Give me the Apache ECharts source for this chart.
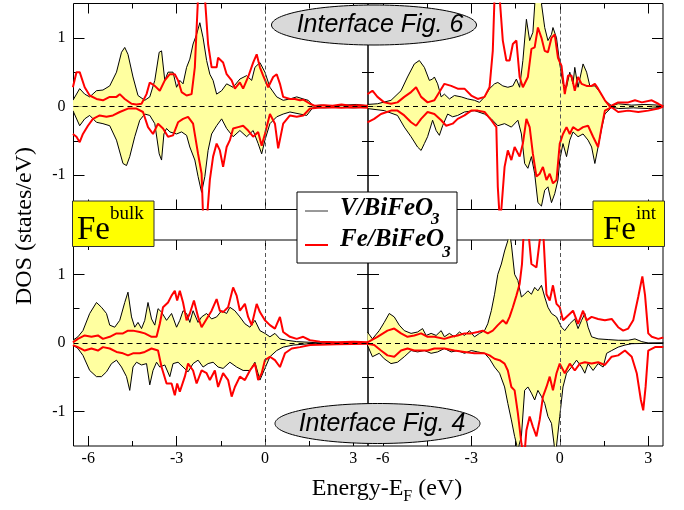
<!DOCTYPE html>
<html>
<head>
<meta charset="utf-8">
<script src="https://cdn.jsdelivr.net/npm/echarts@6.0.0/dist/echarts.min.js"></script>
<style>
    html, body {margin: 0; padding: 0; background: #fff;}
    #main {width: 684px; height: 510px;}
</style>
</head>
<body>
<div id="main"></div>
<script>
/* 坐标轴刻度 */
var xMajor = [-6, -3, 0, 3];
var xMinor = [-4.5, -1.5, 1.5];
var yMajor = [-1, 0, 1];
var yMinor = [-0.5, 0.5];
var xMin = -6.5, xMax = 3.5, yMin = -1.5, yMax = 1.5;

var seriesNames = ['V/BiFeO3', 'Fe/BiFeO3'];

/* 上左: Fe bulk, Interface Fig. 6 */
var tlV_up = [[-6.52,0.09],[-6.29,0.26],[-6.12,0.18],[-5.95,0.14],[-5.72,0.23],[-5.5,0.24],[-5.27,0.3],[-5.04,0.5],[-4.87,0.79],[-4.76,0.86],[-4.65,0.76],[-4.48,0.43],[-4.31,0.16],[-4.08,0.09],[-3.91,0.14],[-3.74,0.38],[-3.59,0.79],[-3.51,0.81],[-3.4,0.38],[-3.29,0.5],[-3.12,0.5],[-3,0.28],[-2.89,0.38],[-2.78,0.33],[-2.66,0.57],[-2.55,0.69],[-2.44,0.91],[-2.32,1.05],[-2.21,1.22],[-2.1,1.0],[-1.98,0.67],[-1.87,0.47],[-1.76,0.38],[-1.64,0.18],[-1.47,0.23],[-1.3,0.33],[-1.08,0.28],[-0.85,0.4],[-0.62,0.45],[-0.45,0.38],[-0.34,0.57],[-0.17,0.64],[0,0.5],[0.17,0.28],[0.4,0.14],[0.62,0.09],[0.85,0.11],[1.08,0.14],[1.3,0.11],[1.47,0.09],[1.64,0.01],[1.9,0.02],[2.3,0.01],[2.7,0.02],[3.1,0.03],[3.5,0.01]];
var tlV_dn = [[-6.52,-0.06],[-6.29,-0.28],[-6.12,-0.18],[-5.95,-0.13],[-5.72,-0.23],[-5.5,-0.25],[-5.27,-0.28],[-5.04,-0.49],[-4.82,-0.83],[-4.7,-0.86],[-4.59,-0.73],[-4.42,-0.44],[-4.25,-0.2],[-4.08,-0.11],[-3.91,-0.13],[-3.74,-0.25],[-3.59,-0.69],[-3.51,-0.78],[-3.43,-0.4],[-3.34,-0.32],[-3.23,-0.37],[-3,-0.4],[-2.83,-0.37],[-2.66,-0.42],[-2.55,-0.59],[-2.38,-0.78],[-2.27,-1.02],[-2.15,-1.25],[-2.04,-1.02],[-1.93,-0.64],[-1.81,-0.4],[-1.64,-0.28],[-1.47,-0.18],[-1.3,-0.32],[-1.08,-0.44],[-0.85,-0.35],[-0.62,-0.44],[-0.4,-0.35],[-0.23,-0.54],[-0.11,-0.69],[0,-0.49],[0.17,-0.25],[0.4,-0.15],[0.62,-0.11],[0.85,-0.08],[1.19,-0.11],[1.42,-0.13],[1.64,-0.01],[2,-0.02],[2.5,-0.01],[3,-0.02],[3.5,-0.01]];
var tlFe_up = [[-6.52,0.28],[-6.4,0.5],[-6.29,0.5],[-6.12,0.28],[-5.95,0.16],[-5.72,0.11],[-5.5,0.09],[-5.27,0.14],[-5.04,0.14],[-4.93,0.18],[-4.76,0.11],[-4.53,0.04],[-4.36,0.03],[-4.19,0.04],[-4.02,0.18],[-3.91,0.35],[-3.74,0.3],[-3.57,0.23],[-3.4,0.38],[-3.23,0.47],[-3.06,0.47],[-2.95,0.38],[-2.83,0.21],[-2.66,0.16],[-2.49,0.18],[-2.38,0.57],[-2.27,1.6],[-2.15,1.8],[-2.04,1.6],[-1.93,0.91],[-1.81,0.57],[-1.64,0.57],[-1.59,0.71],[-1.42,0.64],[-1.3,0.47],[-1.13,0.38],[-1.02,0.26],[-0.85,0.35],[-0.74,0.26],[-0.57,0.43],[-0.4,0.64],[-0.28,0.76],[-0.17,0.57],[-0.06,0.45],[0.11,0.28],[0.28,0.43],[0.4,0.47],[0.51,0.33],[0.62,0.14],[0.85,0.11],[1.02,0.11],[1.19,0.09],[1.3,0.1],[1.53,0.04],[1.7,0.01],[2,0.02],[2.3,0.01],[2.6,0.03],[2.9,0.01],[3.2,0.02],[3.5,0.01]];
var tlFe_dn = [[-6.52,-0.4],[-6.4,-0.44],[-6.29,-0.52],[-6.18,-0.4],[-6.01,-0.28],[-5.84,-0.18],[-5.61,-0.13],[-5.38,-0.15],[-5.16,-0.13],[-4.93,-0.08],[-4.65,-0.03],[-4.36,-0.03],[-4.14,-0.08],[-3.97,-0.3],[-3.8,-0.4],[-3.63,-0.25],[-3.46,-0.32],[-3.29,-0.44],[-3.12,-0.42],[-2.95,-0.23],[-2.78,-0.18],[-2.61,-0.15],[-2.44,-0.25],[-2.27,-0.69],[-2.15,-0.98],[-2.1,-1.6],[-1.98,-1.7],[-1.87,-1.07],[-1.76,-0.73],[-1.64,-0.54],[-1.53,-0.64],[-1.42,-0.88],[-1.3,-0.59],[-1.19,-0.49],[-1.08,-0.32],[-0.91,-0.3],[-0.74,-0.28],[-0.57,-0.35],[-0.4,-0.44],[-0.23,-0.37],[-0.11,-0.57],[0,-0.4],[0.17,-0.11],[0.34,-0.25],[0.45,-0.61],[0.62,-0.25],[0.85,-0.13],[1.08,-0.15],[1.3,-0.13],[1.53,-0.03],[1.8,-0.02],[2.2,-0.01],[2.6,-0.02],[3,-0.01],[3.5,-0.02]];

/* 上右: Fe int, Interface Fig. 6 */
var trV_up = [[-6.52,0.03],[-6.18,0.04],[-5.72,0.09],[-5.38,0.23],[-5.16,0.43],[-4.93,0.62],[-4.76,0.67],[-4.59,0.57],[-4.42,0.38],[-4.31,0.4],[-4.25,0.43],[-4.14,0.33],[-4.02,0.14],[-3.91,0.18],[-3.74,0.11],[-3.57,0.16],[-3.34,0.14],[-3.12,0.11],[-2.89,0.09],[-2.72,0.06],[-2.55,0.14],[-2.38,0.26],[-2.21,0.33],[-2.1,0.35],[-1.93,0.3],[-1.76,0.28],[-1.59,0.3],[-1.47,0.4],[-1.36,0.28],[-1.25,0.67],[-1.13,1.27],[-1.02,0.96],[-0.91,1.08],[-0.83,1.6],[-0.74,1.65],[-0.62,1.5],[-0.51,1.15],[-0.4,0.96],[-0.28,1.05],[-0.23,1.15],[-0.11,1.0],[0,0.62],[0.11,0.33],[0.23,0.28],[0.34,0.5],[0.45,0.33],[0.51,0.57],[0.62,0.28],[0.79,0.62],[0.91,0.5],[1.02,0.3],[1.19,0.3],[1.36,0.21],[1.53,0.09],[1.76,0.01],[1.98,0.04],[2.44,0.02],[2.89,0.03],[3.34,0.02],[3.51,0.01]];
var trV_dn = [[-6.52,-0.03],[-5.95,-0.06],[-5.5,-0.13],[-5.27,-0.3],[-5.04,-0.44],[-4.82,-0.59],[-4.7,-0.64],[-4.59,-0.54],[-4.48,-0.44],[-4.31,-0.2],[-4.19,-0.35],[-4.08,-0.42],[-3.97,-0.28],[-3.8,-0.11],[-3.63,-0.15],[-3.46,-0.13],[-3.23,-0.08],[-2.89,-0.06],[-2.55,-0.11],[-2.32,-0.18],[-2.1,-0.28],[-1.87,-0.25],[-1.64,-0.3],[-1.42,-0.2],[-1.3,-0.4],[-1.19,-0.83],[-1.08,-0.9],[-0.96,-0.73],[-0.85,-0.98],[-0.74,-1.4],[-0.62,-1.45],[-0.51,-1.22],[-0.4,-1.17],[-0.28,-1.4],[-0.17,-1.27],[-0.06,-1.07],[0,-0.78],[0.11,-0.54],[0.23,-0.73],[0.34,-0.49],[0.45,-0.37],[0.62,-0.44],[0.79,-0.4],[0.96,-0.49],[1.08,-0.59],[1.19,-0.83],[1.3,-0.59],[1.42,-0.32],[1.53,-0.11],[1.76,-0.01],[2,-0.03],[2.5,-0.02],[3,-0.03],[3.5,-0.01]];
var trFe_up = [[-6.52,0.18],[-6.35,0.23],[-6.18,0.14],[-5.95,0.06],[-5.72,0.04],[-5.5,0.06],[-5.27,0.14],[-5.04,0.21],[-4.87,0.28],[-4.7,0.14],[-4.48,0.06],[-4.25,0.09],[-4.08,0.21],[-3.91,0.33],[-3.68,0.3],[-3.46,0.26],[-3.23,0.26],[-3,0.16],[-2.78,0.11],[-2.55,0.14],[-2.38,0.28],[-2.27,0.81],[-2.21,1.6],[-2.13,1.8],[-2.04,1.6],[-1.93,0.96],[-1.81,0.67],[-1.7,0.67],[-1.59,0.91],[-1.47,0.96],[-1.36,0.43],[-1.25,0.28],[-1.08,0.43],[-0.96,0.84],[-0.85,0.86],[-0.74,1.15],[-0.62,1.0],[-0.51,0.81],[-0.4,0.79],[-0.28,1.0],[-0.17,1.05],[-0.06,0.71],[0.06,0.59],[0.17,0.18],[0.28,0.45],[0.4,0.45],[0.51,0.23],[0.62,0.43],[0.74,0.33],[0.91,0.3],[1.08,0.3],[1.19,0.33],[1.3,0.26],[1.53,0.09],[1.7,0.0],[1.98,0.06],[2.32,0.06],[2.55,0.09],[2.78,0.06],[3.12,0.09],[3.34,0.04],[3.51,0.0]];
var trFe_dn = [[-6.52,-0.23],[-6.29,-0.18],[-6.06,-0.11],[-5.72,-0.06],[-5.5,-0.06],[-5.27,-0.13],[-5.04,-0.23],[-4.87,-0.28],[-4.7,-0.18],[-4.48,-0.08],[-4.25,-0.11],[-4.02,-0.2],[-3.85,-0.28],[-3.63,-0.25],[-3.46,-0.18],[-3.23,-0.13],[-3,-0.06],[-2.78,-0.06],[-2.55,-0.08],[-2.32,-0.2],[-2.15,-0.3],[-2.1,-1.17],[-2.04,-1.6],[-1.98,-1.5],[-1.87,-0.88],[-1.76,-0.64],[-1.64,-0.78],[-1.53,-0.59],[-1.36,-0.73],[-1.25,-0.54],[-1.13,-0.18],[-1.02,-0.3],[-0.91,-0.69],[-0.79,-1.02],[-0.68,-0.98],[-0.57,-0.88],[-0.45,-1.07],[-0.34,-0.98],[-0.23,-1.12],[-0.11,-1.07],[0,-0.54],[0.11,-0.4],[0.23,-0.3],[0.34,-0.4],[0.45,-0.3],[0.62,-0.35],[0.79,-0.3],[0.96,-0.28],[1.13,-0.44],[1.3,-0.59],[1.42,-0.3],[1.53,-0.06],[1.76,-0.01],[1.98,-0.08],[2.32,-0.06],[2.66,-0.08],[3,-0.06],[3.34,-0.03],[3.51,0.0]];

/* 下左: Fe bulk, Interface Fig. 4 */
var blV_up = [[-6.52,0.04],[-6.35,0.09],[-6.18,0.18],[-5.95,0.43],[-5.72,0.59],[-5.55,0.52],[-5.38,0.43],[-5.27,0.26],[-5.1,0.23],[-4.93,0.33],[-4.76,0.59],[-4.65,0.74],[-4.53,0.38],[-4.42,0.23],[-4.31,0.3],[-4.19,0.21],[-4.08,0.33],[-3.97,0.59],[-3.85,0.35],[-3.74,0.26],[-3.63,0.5],[-3.51,0.45],[-3.34,0.33],[-3.17,0.43],[-3,0.23],[-2.89,0.33],[-2.78,0.47],[-2.66,0.43],[-2.55,0.3],[-2.44,0.47],[-2.27,0.3],[-2.15,0.38],[-1.98,0.43],[-1.81,0.35],[-1.64,0.38],[-1.47,0.47],[-1.3,0.43],[-1.19,0.52],[-1.02,0.47],[-0.85,0.38],[-0.68,0.28],[-0.51,0.23],[-0.34,0.33],[-0.17,0.18],[0,0.14],[0.17,0.09],[0.34,0.14],[0.51,0.06],[0.74,0.04],[1.08,0.02],[1.53,0.01],[1.87,0.0],[3.5,0.0]];
var blV_dn = [[-6.52,-0.03],[-6.35,-0.08],[-6.18,-0.18],[-5.95,-0.4],[-5.72,-0.49],[-5.55,-0.49],[-5.38,-0.42],[-5.21,-0.3],[-5.04,-0.25],[-4.87,-0.35],[-4.7,-0.49],[-4.59,-0.69],[-4.48,-0.35],[-4.36,-0.28],[-4.19,-0.32],[-4.02,-0.3],[-3.91,-0.61],[-3.8,-0.4],[-3.68,-0.28],[-3.57,-0.35],[-3.4,-0.32],[-3.23,-0.49],[-3.12,-0.3],[-2.95,-0.28],[-2.78,-0.35],[-2.61,-0.42],[-2.44,-0.3],[-2.27,-0.25],[-2.1,-0.35],[-1.93,-0.3],[-1.76,-0.28],[-1.59,-0.35],[-1.42,-0.37],[-1.19,-0.28],[-0.96,-0.35],[-0.74,-0.4],[-0.51,-0.4],[-0.34,-0.28],[-0.17,-0.54],[0,-0.37],[0.17,-0.2],[0.4,-0.11],[0.62,-0.06],[0.96,-0.03],[1.53,-0.01],[1.87,0.0],[3.5,0.0]];
var blFe_up = [[-6.52,0.01],[-6.35,0.06],[-6.12,0.11],[-5.89,0.09],[-5.67,0.11],[-5.5,0.06],[-5.27,0.09],[-5.04,0.14],[-4.82,0.14],[-4.65,0.18],[-4.48,0.18],[-4.25,0.16],[-4.08,0.14],[-3.85,0.09],[-3.68,0.09],[-3.57,0.28],[-3.46,0.52],[-3.29,0.59],[-3.17,0.69],[-3.06,0.76],[-2.98,0.62],[-2.89,0.76],[-2.78,0.59],[-2.66,0.33],[-2.55,0.43],[-2.41,0.62],[-2.27,0.38],[-2.15,0.23],[-1.98,0.35],[-1.81,0.47],[-1.64,0.64],[-1.53,0.47],[-1.42,0.45],[-1.25,0.52],[-1.08,0.81],[-0.96,0.69],[-0.85,0.47],[-0.68,0.57],[-0.57,0.38],[-0.45,0.26],[-0.28,0.57],[-0.17,0.45],[0,0.33],[0.17,0.26],[0.34,0.21],[0.51,0.38],[0.62,0.16],[0.85,0.09],[1.08,0.06],[1.3,0.09],[1.53,0.04],[1.87,0.02],[2.44,0.01],[3,0.02],[3.51,0.01]];
var blFe_dn = [[-6.52,-0.03],[-6.35,-0.06],[-6.12,-0.11],[-5.89,-0.08],[-5.67,-0.11],[-5.5,-0.06],[-5.27,-0.08],[-5.04,-0.13],[-4.82,-0.15],[-4.65,-0.18],[-4.48,-0.15],[-4.25,-0.15],[-4.08,-0.13],[-3.85,-0.08],[-3.63,-0.11],[-3.51,-0.35],[-3.34,-0.59],[-3.17,-0.59],[-3.06,-0.76],[-2.98,-0.59],[-2.89,-0.71],[-2.72,-0.49],[-2.61,-0.3],[-2.44,-0.4],[-2.32,-0.59],[-2.15,-0.4],[-1.98,-0.44],[-1.87,-0.54],[-1.7,-0.4],[-1.59,-0.64],[-1.42,-0.44],[-1.25,-0.54],[-1.13,-0.78],[-1.02,-0.64],[-0.85,-0.49],[-0.68,-0.54],[-0.51,-0.4],[-0.34,-0.3],[-0.23,-0.54],[-0.11,-0.44],[0,-0.25],[0.17,-0.2],[0.34,-0.25],[0.51,-0.35],[0.68,-0.15],[0.91,-0.08],[1.19,-0.06],[1.53,-0.03],[2.44,-0.02],[3.51,-0.01]];

/* 下右: Fe int, Interface Fig. 4 */
var brV_up = [[-6.52,0.16],[-6.35,0.06],[-6.12,0.18],[-5.95,0.3],[-5.78,0.43],[-5.61,0.38],[-5.44,0.26],[-5.27,0.18],[-5.04,0.14],[-4.82,0.16],[-4.65,0.21],[-4.53,0.11],[-4.36,0.14],[-4.19,0.11],[-4.02,0.18],[-3.91,0.09],[-3.74,0.14],[-3.57,0.09],[-3.4,0.16],[-3.23,0.11],[-3.06,0.18],[-2.89,0.09],[-2.72,0.14],[-2.55,0.18],[-2.44,0.28],[-2.32,0.47],[-2.21,0.71],[-2.1,1.0],[-1.98,1.15],[-1.87,1.34],[-1.76,1.49],[-1.7,1.6],[-1.64,1.44],[-1.53,1.0],[-1.42,0.91],[-1.3,0.67],[-1.19,0.71],[-1.08,0.76],[-0.96,0.71],[-0.85,0.81],[-0.74,0.76],[-0.62,0.84],[-0.51,0.67],[-0.4,0.52],[-0.28,0.43],[-0.11,0.38],[0.06,0.23],[0.17,0.18],[0.34,0.28],[0.51,0.35],[0.62,0.21],[0.74,0.33],[0.85,0.43],[0.96,0.23],[1.08,0.09],[1.3,0.06],[1.64,0.05],[1.98,0.04],[2.32,0.04],[2.55,0.06],[2.78,0.02],[3,0.0],[3.51,0.0]];
var brV_dn = [[-6.52,-0.03],[-6.35,-0.2],[-6.12,-0.15],[-5.95,-0.23],[-5.72,-0.3],[-5.5,-0.28],[-5.27,-0.2],[-5.04,-0.11],[-4.82,-0.13],[-4.59,-0.11],[-4.36,-0.15],[-4.14,-0.13],[-3.91,-0.08],[-3.68,-0.13],[-3.46,-0.11],[-3.23,-0.15],[-3,-0.11],[-2.78,-0.13],[-2.55,-0.15],[-2.38,-0.23],[-2.21,-0.35],[-2.04,-0.44],[-1.87,-0.64],[-1.76,-0.88],[-1.64,-1.12],[-1.53,-1.36],[-1.42,-1.55],[-1.3,-1.36],[-1.19,-0.69],[-1.08,-0.64],[-0.96,-0.73],[-0.85,-0.83],[-0.74,-0.69],[-0.62,-0.78],[-0.51,-0.88],[-0.4,-1.07],[-0.28,-1.17],[-0.17,-1.55],[-0.11,-1.5],[0,-1.07],[0.11,-0.64],[0.23,-0.44],[0.4,-0.35],[0.57,-0.25],[0.74,-0.35],[0.85,-0.44],[0.96,-0.3],[1.13,-0.4],[1.3,-0.3],[1.47,-0.35],[1.59,-0.15],[1.76,-0.11],[1.98,-0.06],[2.21,-0.03],[2.44,-0.01],[3.51,0.0]];
var brFe_up = [[-6.52,0.01],[-6.18,0.09],[-5.84,0.18],[-5.61,0.21],[-5.38,0.14],[-5.16,0.09],[-4.93,0.11],[-4.7,0.14],[-4.48,0.09],[-4.25,0.09],[-3.91,0.06],[-3.68,0.09],[-3.46,0.11],[-3.23,0.14],[-3,0.14],[-2.78,0.16],[-2.61,0.18],[-2.44,0.14],[-2.27,0.18],[-2.1,0.26],[-1.93,0.33],[-1.81,0.28],[-1.7,0.38],[-1.59,0.52],[-1.47,0.69],[-1.36,0.86],[-1.28,1.15],[-1.21,1.7],[-1.08,1.7],[-0.96,1.15],[-0.79,1.1],[-0.68,1.49],[-0.57,1.7],[-0.45,0.71],[-0.34,0.62],[-0.23,0.84],[-0.11,0.57],[0,0.52],[0.11,0.33],[0.28,0.4],[0.45,0.47],[0.62,0.28],[0.79,0.47],[0.91,0.33],[1.08,0.38],[1.3,0.35],[1.53,0.33],[1.76,0.35],[1.98,0.23],[2.15,0.18],[2.32,0.21],[2.49,0.33],[2.66,0.67],[2.8,0.97],[2.89,0.7],[3,0.14],[3.12,0.09],[3.34,0.06],[3.51,0.08]];
var brFe_dn = [[-6.52,-0.01],[-6.29,-0.03],[-6.06,-0.11],[-5.84,-0.18],[-5.61,-0.2],[-5.38,-0.11],[-5.16,-0.08],[-4.93,-0.11],[-4.7,-0.11],[-4.48,-0.11],[-4.25,-0.08],[-3.91,-0.08],[-3.57,-0.11],[-3.23,-0.13],[-2.89,-0.15],[-2.55,-0.15],[-2.38,-0.18],[-2.21,-0.23],[-2.04,-0.25],[-1.87,-0.3],[-1.76,-0.4],[-1.64,-0.64],[-1.53,-0.69],[-1.42,-1.02],[-1.3,-1.46],[-1.21,-1.7],[-1.13,-1.27],[-1.02,-1.07],[-0.91,-1.22],[-0.79,-1.36],[-0.68,-1.12],[-0.57,-0.78],[-0.45,-0.64],[-0.34,-0.49],[-0.23,-0.69],[-0.11,-0.44],[0,-0.3],[0.17,-0.44],[0.34,-0.3],[0.51,-0.4],[0.68,-0.3],[0.85,-0.28],[1.08,-0.3],[1.3,-0.28],[1.53,-0.32],[1.76,-0.2],[1.98,-0.18],[2.21,-0.11],[2.44,-0.2],[2.61,-0.44],[2.75,-0.83],[2.83,-0.98],[2.91,-0.64],[3,-0.11],[3.23,-0.06],[3.51,-0.06]];

var panels = [
    {vUp: tlV_up, vDn: tlV_dn, feUp: tlFe_up, feDn: tlFe_dn},
    {vUp: trV_up, vDn: trV_dn, feUp: trFe_up, feDn: trFe_dn},
    {vUp: blV_up, vDn: blV_dn, feUp: blFe_up, feDn: blFe_dn},
    {vUp: brV_up, vDn: brV_dn, feUp: brFe_up, feDn: brFe_dn}
];

var rects = [
    {left: 73.5, top: 3.5, width: 294.5, height: 206},
    {left: 368, top: 3.5, width: 295, height: 206},
    {left: 73.5, top: 240, width: 294.5, height: 206},
    {left: 368, top: 240, width: 295, height: 206}
];

var serif = 'Liberation Serif';
var sans = 'Liberation Sans';
var fillYellow = '#ffffa0';

var measureCtx = document.createElement('canvas').getContext('2d');
function textW(str, font) {
    measureCtx.font = font;
    return measureCtx.measureText(str).width;
}

function xAxis(g, pos, ticks, len, showLabel) {
    return {
        type: 'value', gridIndex: g, position: pos, min: xMin, max: xMax,
        axisLine: {show: false, onZero: false},
        splitLine: {show: false},
        axisTick: {show: true, inside: true, length: len, customValues: ticks, lineStyle: {color: '#000', width: 1}},
        axisLabel: {show: showLabel, customValues: ticks, margin: 5, color: '#000', fontFamily: serif, fontSize: 16}
    };
}

function yAxis(g, pos, ticks, len, showLabel) {
    return {
        type: 'value', gridIndex: g, position: pos, min: yMin, max: yMax,
        axisLine: {show: false, onZero: false},
        splitLine: {show: false},
        axisTick: {show: true, inside: true, length: len, customValues: ticks, lineStyle: {color: '#000', width: 1}},
        axisLabel: {show: showLabel, customValues: ticks, margin: 8, color: '#000', fontFamily: serif, fontSize: 16}
    };
}

var grids = [], xAxes = [], yAxes = [], series = [];

/* 0-3 主网格(大刻度), 4-7 同位置网格(小刻度) */
for (let k = 0; k < 8; k++) {
    let r = rects[k % 4];
    let major = k < 4;
    grids.push({
        left: r.left, top: r.top, width: r.width, height: r.height,
        show: major, borderColor: '#000', borderWidth: 1, backgroundColor: 'transparent'
    });
    xAxes.push(xAxis(k, 'bottom', major ? xMajor : xMinor, major ? 10 : 5, major && (k === 2 || k === 3)));
    xAxes.push(xAxis(k, 'top', major ? xMajor : xMinor, major ? 10 : 5, false));
    yAxes.push(yAxis(k, 'left', major ? yMajor : yMinor, major ? 11 : 6, major && (k === 0 || k === 2)));
    yAxes.push(yAxis(k, 'right', major ? yMajor : yMinor, major ? 11 : 6, false));
}

panels.forEach(function (p, g) {
    let base = {type: 'line', xAxisIndex: 2 * g, yAxisIndex: 2 * g, symbol: 'none', clip: true, silent: true};
    series.push(Object.assign({}, base, {
        name: seriesNames[0], data: p.vUp, z: 2,
        lineStyle: {color: '#000', width: 1},
        areaStyle: {color: fillYellow, opacity: 1},
        markLine: {
            silent: true, symbol: 'none', label: {show: false},
            data: [
                {yAxis: 0, lineStyle: {color: '#000', type: [5, 4], width: 1}},
                {xAxis: 0, lineStyle: {color: '#555', type: [4, 3], width: 1}}
            ]
        }
    }));
    series.push(Object.assign({}, base, {
        name: seriesNames[0], data: p.vDn, z: 2,
        lineStyle: {color: '#000', width: 1},
        areaStyle: {color: fillYellow, opacity: 1}
    }));
    series.push(Object.assign({}, base, {
        name: seriesNames[1], data: p.feUp, z: 3,
        lineStyle: {color: '#ff0000', width: 2}
    }));
    series.push(Object.assign({}, base, {
        name: seriesNames[1], data: p.feDn, z: 3,
        lineStyle: {color: '#ff0000', width: 2}
    }));
});

/* 标注框、图例、坐标轴标题 */
var fBig = '33px ' + serif, fSup = '19px ' + serif;
var fLeg = 'italic bold 25px ' + serif, fSub = '17px ' + serif;
var fAxis = '24px ' + serif, fAxisSub = '16px ' + serif;
var fEll = 'italic 25px ' + sans;

var legX = 340;
var xLabelParts = ['Energy-E', 'F', ' (eV)'];
var xLabW = textW(xLabelParts[0], fAxis) + textW(xLabelParts[1], fAxisSub) + textW(xLabelParts[2], fAxis);
var xLabStart = 387 - xLabW / 2;

function txt(x, y, s, font, align, extra) {
    return Object.assign({type: 'text', x: x, y: y, z: 110,
        style: {text: s, font: font, fill: '#000', align: align || 'left', verticalAlign: 'middle'}}, extra || {});
}

var graphics = [
    // Interface Fig. 6
    {type: 'ellipse', z: 100, shape: {cx: 374, cy: 25, rx: 102.5, ry: 20}, style: {fill: '#d9d9d9', stroke: '#000', lineWidth: 1}},
    txt(380, 25, 'Interface Fig. 6', fEll, 'center'),
    // Interface Fig. 4
    {type: 'ellipse', z: 100, shape: {cx: 377.5, cy: 423.5, rx: 102.5, ry: 20}, style: {fill: '#d9d9d9', stroke: '#000', lineWidth: 1}},
    txt(382, 424.5, 'Interface Fig. 4', fEll, 'center'),
    // Fe bulk
    {type: 'rect', z: 100, shape: {x: 72.5, y: 201, width: 81.5, height: 45.5}, style: {fill: '#ffff00', stroke: '#333', lineWidth: 1}},
    txt(77, 230.5, 'Fe', fBig),
    txt(110, 214.5, 'bulk', fSup),
    // Fe int
    {type: 'rect', z: 100, shape: {x: 593, y: 201, width: 71.5, height: 45.5}, style: {fill: '#ffff00', stroke: '#333', lineWidth: 1}},
    txt(603, 230.5, 'Fe', fBig),
    txt(636, 214.5, 'int', fSup),
    // 图例
    {type: 'rect', z: 100, shape: {x: 297, y: 192, width: 160, height: 71}, style: {fill: '#fff', stroke: '#000', lineWidth: 1}},
    {type: 'line', z: 110, shape: {x1: 305, y1: 211, x2: 328, y2: 211}, style: {stroke: '#333', lineWidth: 1}},
    {type: 'line', z: 110, shape: {x1: 305, y1: 245, x2: 328, y2: 245}, style: {stroke: '#ff0000', lineWidth: 2}},
    txt(legX, 208.5, 'V/BiFeO', fLeg),
    txt(legX + textW('V/BiFeO', fLeg) - 2, 219.5, '3', 'italic bold ' + fSub),
    txt(legX, 240, 'Fe/BiFeO', fLeg),
    txt(legX + textW('Fe/BiFeO', fLeg) - 2, 252.5, '3', 'italic bold ' + fSub),
    // 坐标轴标题
    txt(24.5, 226, 'DOS (states/eV)', fAxis, 'center', {rotation: Math.PI / 2}),
    txt(xLabStart, 489, xLabelParts[0], fAxis),
    txt(xLabStart + textW(xLabelParts[0], fAxis), 496.5, xLabelParts[1], fAxisSub),
    txt(xLabStart + textW(xLabelParts[0], fAxis) + textW(xLabelParts[1], fAxisSub), 489, xLabelParts[2], fAxis)
];

var myChart = echarts.init(document.getElementById('main'));
var option = {
    animation: false,
    backgroundColor: '#fff',
    grid: grids,
    xAxis: xAxes,
    yAxis: yAxes,
    series: series,
    graphic: {elements: graphics}
};
myChart.setOption(option);
</script>
</body>
</html>
